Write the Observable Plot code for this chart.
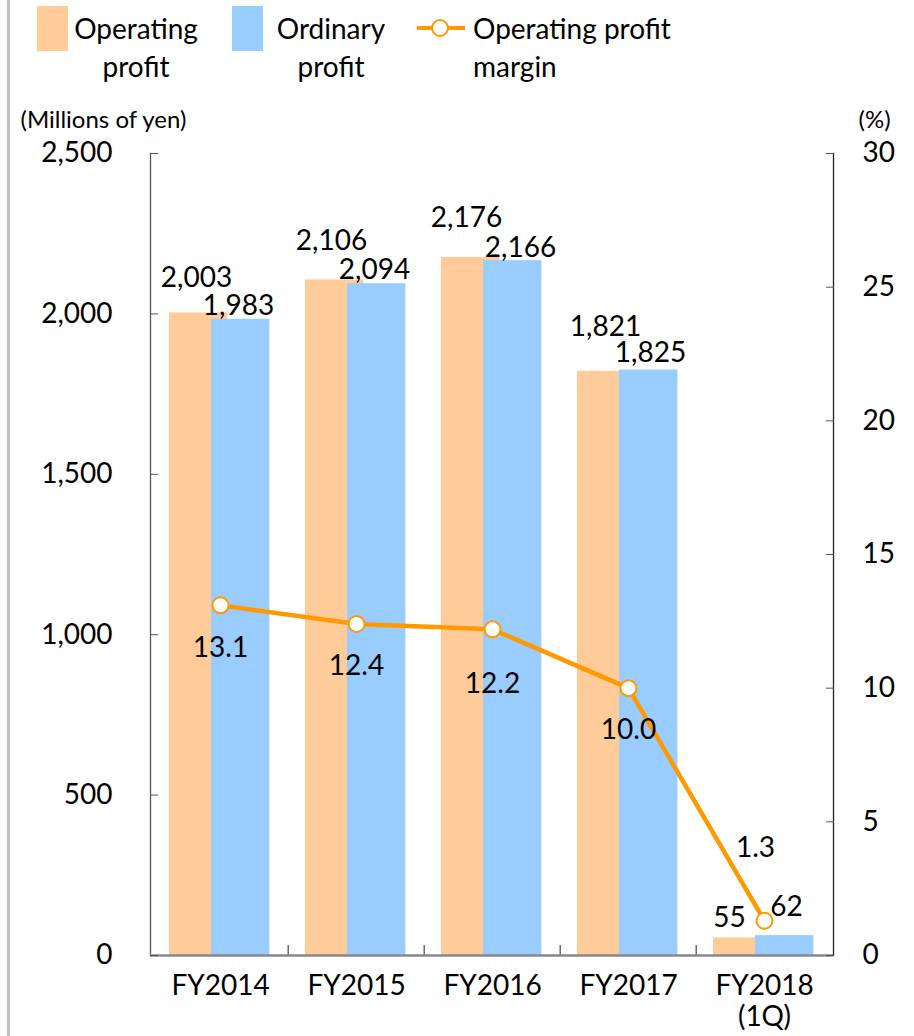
<!DOCTYPE html>
<html><head><meta charset="utf-8">
<script src="https://cdn.jsdelivr.net/npm/d3@7"></script>
<script src="https://cdn.jsdelivr.net/npm/@observablehq/plot@0.6"></script>
<style>
body{margin:0;background:#fff;font-family:Lato,sans-serif;}
#wrap{position:relative;width:914px;height:1036px;overflow:hidden}
#border{position:absolute;left:7px;top:0;width:3px;height:1036px;background:#c0c0c0}
#legend{position:relative;height:95px;font-size:28px;color:#000}
.sw{position:absolute;top:6px;width:31px;height:45px}
.lt{position:absolute;line-height:38px;top:9px;white-space:nowrap}
#chart svg{display:block}
</style></head><body>
<div id="wrap">
  <div id="legend">
    <div class="sw" style="left:37px;background:#FFCC99"></div>
    <div class="lt" style="left:66px;width:140px;text-align:center">Operating<br>profit</div>
    <div class="sw" style="left:232px;background:#99CCFF"></div>
    <div class="lt" style="left:261px;width:140px;text-align:center">Ordinary<br>profit</div>
    <svg style="position:absolute;left:413px;top:13px" width="56" height="30">
      <line x1="4" x2="52" y1="15" y2="15" stroke="#FF9900" stroke-width="4"/>
      <circle cx="27" cy="15" r="8" fill="#fff" stroke="#FF9900" stroke-width="2"/>
    </svg>
    <div class="lt" style="left:473px;text-align:left">Operating profit<br>margin</div>
  </div>
  <div id="chart"></div>
  <div id="border"></div>
</div>
<script>
// ---- data ----
const categories = ["FY2014", "FY2015", "FY2016", "FY2017", "FY2018"];
const categoryLabels = ["FY2014", "FY2015", "FY2016", "FY2017", "FY2018\n(1Q)"];
const operatingProfit = [2003, 2106, 2176, 1821, 55];
const ordinaryProfit = [1983, 2094, 2166, 1825, 62];
const operatingMargin = [13.1, 12.4, 12.2, 10.0, 1.3];
const leftTicks = [0, 500, 1000, 1500, 2000, 2500];
const rightTicks = [0, 5, 10, 15, 20, 25, 30];

// ---- layout ----
const W = 914, H = 941, mL = 150, mR = 81, mT = 58, mB = 81;
const bw = (W - mL - mR) / categories.length;
const yMax = 2500, pMax = 30;
const toY = p => p * yMax / pMax;
const opLabelOff = [[-24, -35], [-25, -39], [-26, -39], [-23, -44], [-35, -20]];
const ordLabelOff = [[18, -13], [18, -14], [28, -13], [22, -17], [22, -29]];
const marginLabelOff = [[0, 43], [0, 42], [0, 55], [0, 42], [-9, -73]];

const rows = categories.map((c, i) => ({
  cat: c, op: operatingProfit[i], ord: ordinaryProfit[i], m: operatingMargin[i], my: toY(operatingMargin[i])
}));
const fmt = d3.format(",");
const FS = 28;

const labelMarks = [];
rows.forEach((d, i) => {
  labelMarks.push(Plot.text([d], {x: "cat", y: "op", text: r => fmt(r.op), dx: opLabelOff[i][0], dy: opLabelOff[i][1], fontSize: FS, fill: "#000"}));
  labelMarks.push(Plot.text([d], {x: "cat", y: "ord", text: r => fmt(r.ord), dx: ordLabelOff[i][0], dy: ordLabelOff[i][1], fontSize: FS, fill: "#000"}));
  labelMarks.push(Plot.text([d], {x: "cat", y: "my", text: r => r.m.toFixed(1), dx: marginLabelOff[i][0], dy: marginLabelOff[i][1], fontSize: FS, fill: "#000"}));
});

const chart = Plot.plot({
  width: W, height: H,
  marginLeft: mL, marginRight: mR, marginTop: mT, marginBottom: mB,
  style: {fontFamily: "Lato, sans-serif", fontSize: FS + "px", color: "#000", background: "#fff"},
  x: {type: "band", domain: categories, padding: 0},
  y: {domain: [0, yMax]},
  marks: [
    Plot.barY(rows, {x: "cat", y: "op", fill: "#FFCC99", insetLeft: 17, insetRight: bw - 17 - 59}),
    Plot.barY(rows, {x: "cat", y: "ord", fill: "#99CCFF", insetLeft: 59, insetRight: bw - 59 - 59}),
    Plot.line(rows, {x: "cat", y: "my", stroke: "#FF9900", strokeWidth: 4.5}),
    Plot.dot(rows, {x: "cat", y: "my", r: 8, fill: "#fff", stroke: "#FF9900", strokeWidth: 2}),
    ...labelMarks,
    Plot.frame({anchor: "left", stroke: "#555", strokeWidth: 1.3}),
    Plot.frame({anchor: "right", stroke: "#222", strokeWidth: 1.3}),
    Plot.tickX(categories.slice(1), {x: d => d, dx: -bw / 2, insetTop: H - mT - mB - 10, stroke: "#555", strokeWidth: 1.3}),
    Plot.ruleY([0], {stroke: "#888", strokeWidth: 2.5}),
    Plot.axisY({ticks: leftTicks, tickFormat: fmt, tickSize: -8, tickPadding: 46, fontSize: FS, stroke: "#555", label: null}),
    Plot.axisY({anchor: "right", ticks: rightTicks.map(toY), tickFormat: d => String(Math.round(d * pMax / yMax)), tickSize: -8, tickPadding: 37, fontSize: FS, stroke: "#555", label: null}),
    Plot.axisX({tickSize: 0, tickPadding: 18, tickFormat: (d, i) => categoryLabels[categories.indexOf(d)], fontSize: FS, lineHeight: 1.1, label: null}),
    Plot.text(["(Millions of yen)"], {text: d => d, frameAnchor: "top-left", dx: -130, dy: -43, textAnchor: "start", fontSize: 24, fill: "#000"}),
    Plot.text(["(%)"], {text: d => d, frameAnchor: "top-right", dx: 25, dy: -43, textAnchor: "start", fontSize: 24, fill: "#000"})
  ]
});
document.getElementById("chart").appendChild(chart);
</script>
</body></html>
